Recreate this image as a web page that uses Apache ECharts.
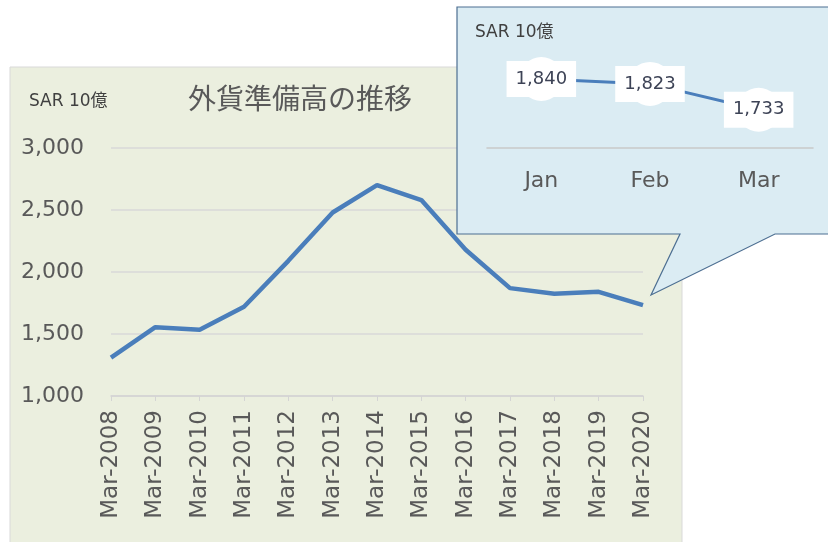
<!DOCTYPE html>
<html>
<head>
<meta charset="utf-8">
<script src="https://cdn.jsdelivr.net/npm/echarts@6/dist/echarts.min.js"></script>
<style>
  html, body { margin: 0; padding: 0; background: #fff; }
  #main { width: 828px; height: 542px; }
</style>
</head>
<body>
<div id="main"></div>
<script>
// 年次データ（SAR 10億）
const years = ['Mar-2008', 'Mar-2009', 'Mar-2010', 'Mar-2011', 'Mar-2012', 'Mar-2013', 'Mar-2014',
  'Mar-2015', 'Mar-2016', 'Mar-2017', 'Mar-2018', 'Mar-2019', 'Mar-2020'];
const reserves = [1310, 1555, 1535, 1720, 2090, 2480, 2700, 2580, 2180, 1870, 1825, 1840, 1733];
// 2020年 月次（吹き出し）
const months = ['Jan', 'Feb', 'Mar'];
const monthly = [1840, 1823, 1733];

const titleText = '外貨準備高の推移';
const unitText = 'SAR 10億';

const FONT = "'DejaVu Sans', 'Noto Sans CJK JP', sans-serif";
const GRAY = '#595959';
const BLUE = '#4a7ebb';

var myChart = echarts.init(document.getElementById('main'));

var option = {
  animation: false,
  textStyle: { fontFamily: FONT },
  graphic: [
    // 本体の背景
    {
      type: 'rect', z: -10, silent: true,
      shape: { x: 10, y: 67, width: 672, height: 490 },
      style: { fill: '#ebefdf', stroke: '#d9d9d9', lineWidth: 1 }
    },
    {
      type: 'text', z: 5, silent: true,
      style: { x: 300, y: 98, text: titleText, align: 'center', verticalAlign: 'middle',
        font: "28px 'Noto Sans CJK JP'", fill: GRAY }
    },
    {
      type: 'text', z: 5, silent: true,
      style: { x: 29, y: 102, text: unitText, verticalAlign: 'middle',
        font: "17px " + FONT, fill: '#404040' }
    },
    // 吹き出し
    {
      type: 'polygon', z: 10, silent: true,
      shape: { points: [[457, 7], [835, 7], [835, 234], [775, 234], [651, 295], [680, 234], [457, 234]] },
      style: { fill: '#dbecf3', stroke: '#4d6f92', lineWidth: 1.2 }
    },
    {
      type: 'text', z: 11, silent: true,
      style: { x: 475, y: 33, text: unitText, verticalAlign: 'middle',
        font: "17px " + FONT, fill: '#404040' }
    }
  ],
  grid: [
    { left: 111, right: 185, top: 148, bottom: 146 },
    { left: 487, right: 15, top: 56, height: 92 }
  ],
  xAxis: [
    {
      type: 'category', gridIndex: 0, data: years, boundaryGap: false,
      axisLine: { lineStyle: { color: '#d4d4d4', width: 1.5 } },
      axisTick: { length: 5, lineStyle: { color: '#d4d4d4' } },
      axisLabel: { rotate: 90, color: GRAY, fontSize: 23, margin: 14, interval: 0 }
    },
    {
      type: 'category', gridIndex: 1, data: months, z: 20,
      axisLine: { lineStyle: { color: '#c9c9c9', width: 1.5 } },
      axisTick: { length: 6, lineStyle: { color: '#c9c9c9' } },
      axisLabel: { color: GRAY, fontSize: 22, margin: 22 }
    }
  ],
  yAxis: [
    {
      type: 'value', gridIndex: 0, min: 1000, max: 3000, interval: 500,
      axisLine: { show: false }, axisTick: { show: false },
      splitLine: { lineStyle: { color: '#d9d9d9', width: 1.5 } },
      axisLabel: {
        color: GRAY, fontSize: 22, margin: 27,
        formatter: (v) => v.toLocaleString('en-US')
      }
    },
    {
      type: 'value', gridIndex: 1, min: 1600, max: 1920, show: false
    }
  ],
  series: [
    {
      type: 'line', xAxisIndex: 0, yAxisIndex: 0, data: reserves,
      showSymbol: false, lineStyle: { color: BLUE, width: 4.5 }, z: 2
    },
    {
      type: 'line', xAxisIndex: 1, yAxisIndex: 1, data: monthly, z: 20,
      symbol: 'circle', symbolSize: 44,
      itemStyle: { color: '#fff' },
      lineStyle: { color: BLUE, width: 3 },
      label: {
        show: true, position: 'inside', color: '#3d4356', fontSize: 18, lineHeight: 18,
        backgroundColor: '#fff', padding: [9, 9],
        formatter: (p) => p.value.toLocaleString('en-US')
      }
    }
  ]
};

option && myChart.setOption(option);
</script>
</body>
</html>
